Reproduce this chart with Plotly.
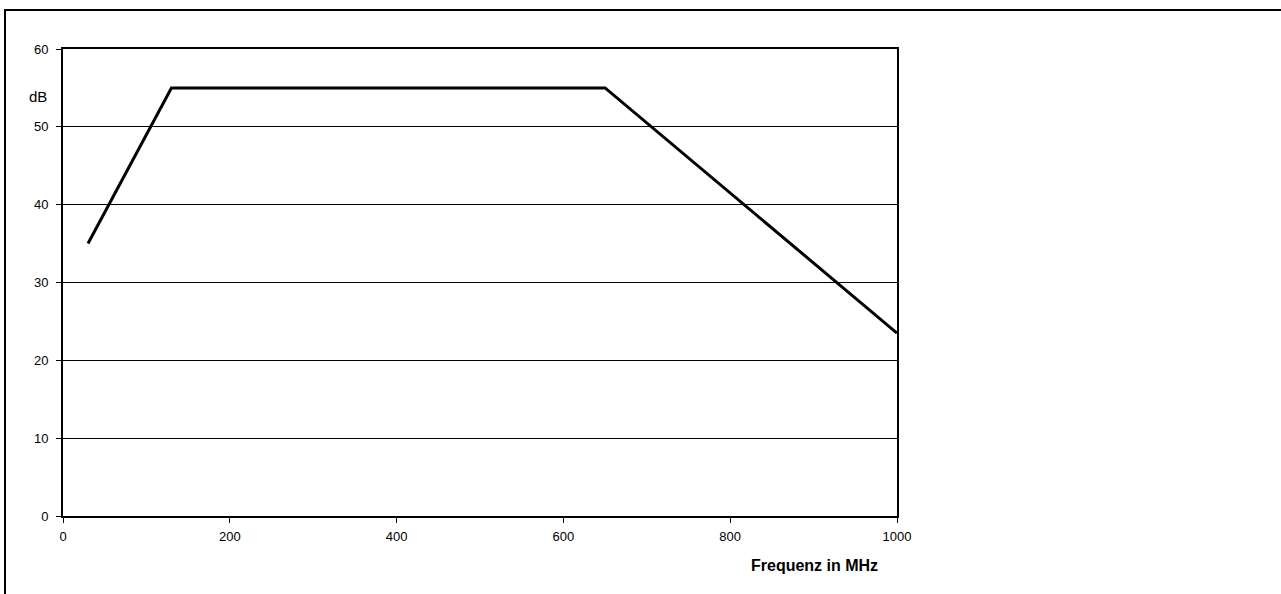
import plotly.graph_objects as go

freq_mhz = [30, 130, 650, 1000]
level_db = [35, 55, 55, 23.5]
x_ticks = [0, 200, 400, 600, 800, 1000]
y_ticks = [0, 10, 20, 30, 40, 50, 60]

W, H = 1281, 594
L, R, T, B = 63, 897, 49, 516
pw, ph = R - L, B - T

def px_to_paper_x(px):
    return (px - L) / pw

def px_to_paper_y(py):
    return (B - py) / ph

fig = go.Figure()
fig.add_trace(go.Scatter(x=freq_mhz, y=level_db, mode="lines",
                         line=dict(color="black", width=3), showlegend=False))

FAM = "Liberation Sans, Arial, sans-serif"
font = dict(family=FAM, size=13, color="black")

fig.update_layout(
    width=W, height=H,
    margin=dict(l=L, r=W - R, t=T, b=H - B, pad=0),
    paper_bgcolor="white", plot_bgcolor="white",
    font=font,
    xaxis=dict(range=[0, 1000], tickvals=x_ticks, ticks="outside", ticklen=5,
               tickcolor="black", tickwidth=1, showgrid=False, zeroline=False,
               showline=True, linecolor="black", linewidth=2, mirror=True,
               tickfont=font, ticklabelstandoff=2),
    yaxis=dict(range=[0, 60], tickvals=y_ticks, ticks="outside", ticklen=5,
               tickcolor="black", tickwidth=1, showgrid=True, gridcolor="black",
               gridwidth=1, zeroline=False, showline=True, linecolor="black",
               linewidth=2, mirror=True, tickfont=font, ticklabelstandoff=5),
    shapes=[dict(type="rect", xref="paper", yref="paper",
                 x0=px_to_paper_x(5), x1=px_to_paper_x(1400),
                 y0=px_to_paper_y(700), y1=px_to_paper_y(10),
                 line=dict(color="black", width=2), layer="below")],
    annotations=[
        dict(text="dB", xref="paper", yref="paper", x=px_to_paper_x(49),
             y=px_to_paper_y(96), xanchor="right", yanchor="middle",
             showarrow=False, font=dict(family=FAM, size=15, color="black")),
        dict(text="<b>Frequenz in MHz</b>", xref="paper", yref="paper",
             x=px_to_paper_x(814), y=px_to_paper_y(565), xanchor="center",
             yanchor="middle", showarrow=False,
             font=dict(family=FAM, size=16, color="black")),
    ],
)

fig.write_html("out.html", config={"displayModeBar": False},
               post_script="document.body.style.margin='0px';")
